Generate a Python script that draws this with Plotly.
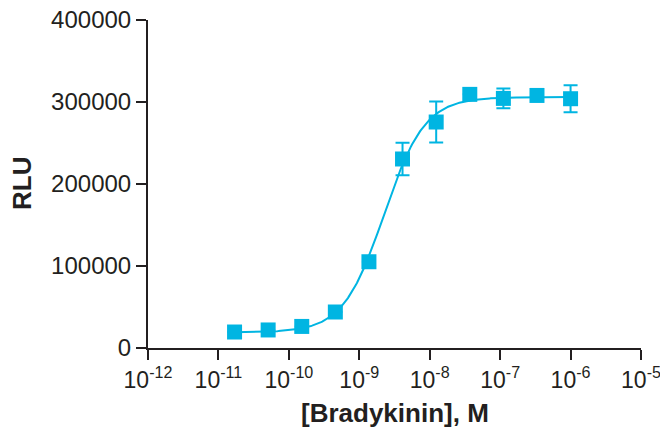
import numpy as np
import plotly.graph_objects as go

# Data
log_conc = [-10.771, -10.294, -9.817, -9.340, -8.863, -8.386, -7.908, -7.431, -6.954, -6.477, -6.000]
rlu = [19500, 22000, 26300, 43900, 105200, 230500, 275600, 309300, 304400, 308000, 304000]
rlu_err = [0, 0, 0, 0, 0, 19700, 25000, 0, 12000, 0, 16500]

# 4-parameter logistic fit parameters
fit_bottom = 19000
fit_top = 306000
fit_log_ec50 = -8.65
fit_hill = 1.5

tick_exps = [-12, -11, -10, -9, -8, -7, -6, -5]
y_ticks = [0, 100000, 200000, 300000, 400000]

conc = [10 ** v for v in log_conc]
xf_log = np.linspace(log_conc[0], log_conc[-1], 300)
yf = fit_bottom + (fit_top - fit_bottom) / (1 + 10 ** ((fit_log_ec50 - xf_log) * fit_hill))

color = "#00b5e2"
axcol = "#231f20"
FONT = "Liberation Sans, Arial, sans-serif"

fig = go.Figure()
fig.add_trace(go.Scatter(x=10 ** xf_log, y=yf, mode="lines",
                         line=dict(color=color, width=2), hoverinfo="skip", showlegend=False))
fig.add_trace(go.Scatter(x=conc, y=rlu, mode="markers",
                         marker=dict(symbol="square", size=15, color=color),
                         error_y=dict(type="data", array=rlu_err, visible=True,
                                      color=color, thickness=2, width=7),
                         showlegend=False))

# the page body has an 8px margin, so the figure is sized to the remaining area
fig.update_layout(
    width=660, height=424,
    margin=dict(l=140, r=27, t=12, b=84),
    paper_bgcolor="white", plot_bgcolor="white",
    font=dict(family=FONT, color=axcol, size=24),
)
fig.update_xaxes(
    type="log", range=[-12, -5],
    tickvals=[10 ** e for e in tick_exps],
    ticktext=[f"10<sup>{e}</sup>" for e in tick_exps],
    tickfont=dict(size=23), ticklabeloverflow="allow",
    showline=True, linecolor=axcol, linewidth=2,
    ticks="outside", ticklen=10, tickwidth=2, tickcolor=axcol,
    showgrid=False, zeroline=False, automargin=False,
)
fig.update_yaxes(
    range=[0, 400000],
    tickvals=y_ticks, ticktext=[str(v) for v in y_ticks],
    tickfont=dict(size=24), ticklabeloverflow="allow",
    showline=True, linecolor=axcol, linewidth=2,
    ticks="outside", ticklen=10, tickwidth=2, tickcolor=axcol,
    showgrid=False, zeroline=False, automargin=False,
)
fig.add_annotation(text="<b>[Bradykinin], M</b>", xref="paper", yref="paper",
                   x=0.5, y=0, xanchor="center", yanchor="middle", yshift=-65,
                   showarrow=False, font=dict(size=26, family=FONT, color=axcol))
fig.add_annotation(text="<b>RLU</b>", xref="paper", yref="paper",
                   x=0, y=0.5, xanchor="center", yanchor="middle", xshift=-126,
                   textangle=-90, showarrow=False, font=dict(size=26, family=FONT, color=axcol))

fig.write_html("out.html")
